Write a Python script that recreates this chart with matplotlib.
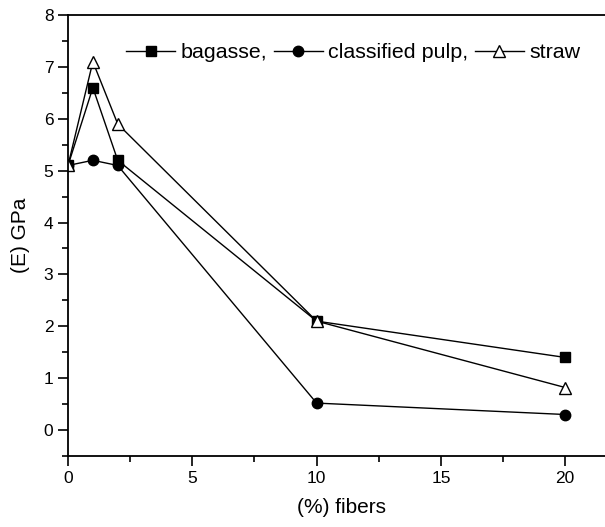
import matplotlib
matplotlib.use('Agg')
import matplotlib.pyplot as plt
from matplotlib.ticker import MultipleLocator

plt.rcParams['font.family'] = ['Liberation Sans', 'DejaVu Sans']

# data
fibers = [0, 1, 2, 10, 20]
bagasse = [5.1, 6.6, 5.2, 2.1, 1.4]
pulp = [5.1, 5.2, 5.1, 0.52, 0.30]
straw = [5.1, 7.1, 5.9, 2.1, 0.82]

fig = plt.figure(figsize=(6.05, 5.27), dpi=100)
ax = fig.add_axes([0.1124, 0.1347, 0.904, 0.8368])

ax.plot(fibers, bagasse, 'k-', marker='s', ms=7, lw=1, label='bagasse,')
ax.plot(fibers, pulp, 'k-', marker='o', ms=7.5, lw=1, label='classified pulp,')
ax.plot(fibers, straw, 'k-', marker='^', ms=8.5, lw=1, mfc='white', mec='black',
        label='straw')

ax.set_xlim(0, 22)
ax.set_ylim(-0.5, 8)
ax.xaxis.set_major_locator(MultipleLocator(5))
ax.xaxis.set_minor_locator(MultipleLocator(2.5))
ax.yaxis.set_major_locator(MultipleLocator(1))
ax.yaxis.set_minor_locator(MultipleLocator(0.5))
ax.tick_params(which='major', direction='out', length=7, width=1.2, labelsize=12.5)
ax.tick_params(which='minor', direction='out', length=4, width=1.2)
ax.tick_params(top=False, right=False, which='both')
for s in ax.spines.values():
    s.set_linewidth(1.3)

ax.set_xlabel('(%) fibers', fontsize=15, labelpad=9)
ax.set_ylabel('(E) GPa', fontsize=15, labelpad=10)

ax.legend(loc='center left', bbox_to_anchor=(0.106, 0.914), ncol=3, frameon=False,
          fontsize=15.4, handlelength=2.3, handletextpad=0.25, columnspacing=0.3,
          borderpad=0, borderaxespad=0)

fig.savefig('out.png', dpi=100)
